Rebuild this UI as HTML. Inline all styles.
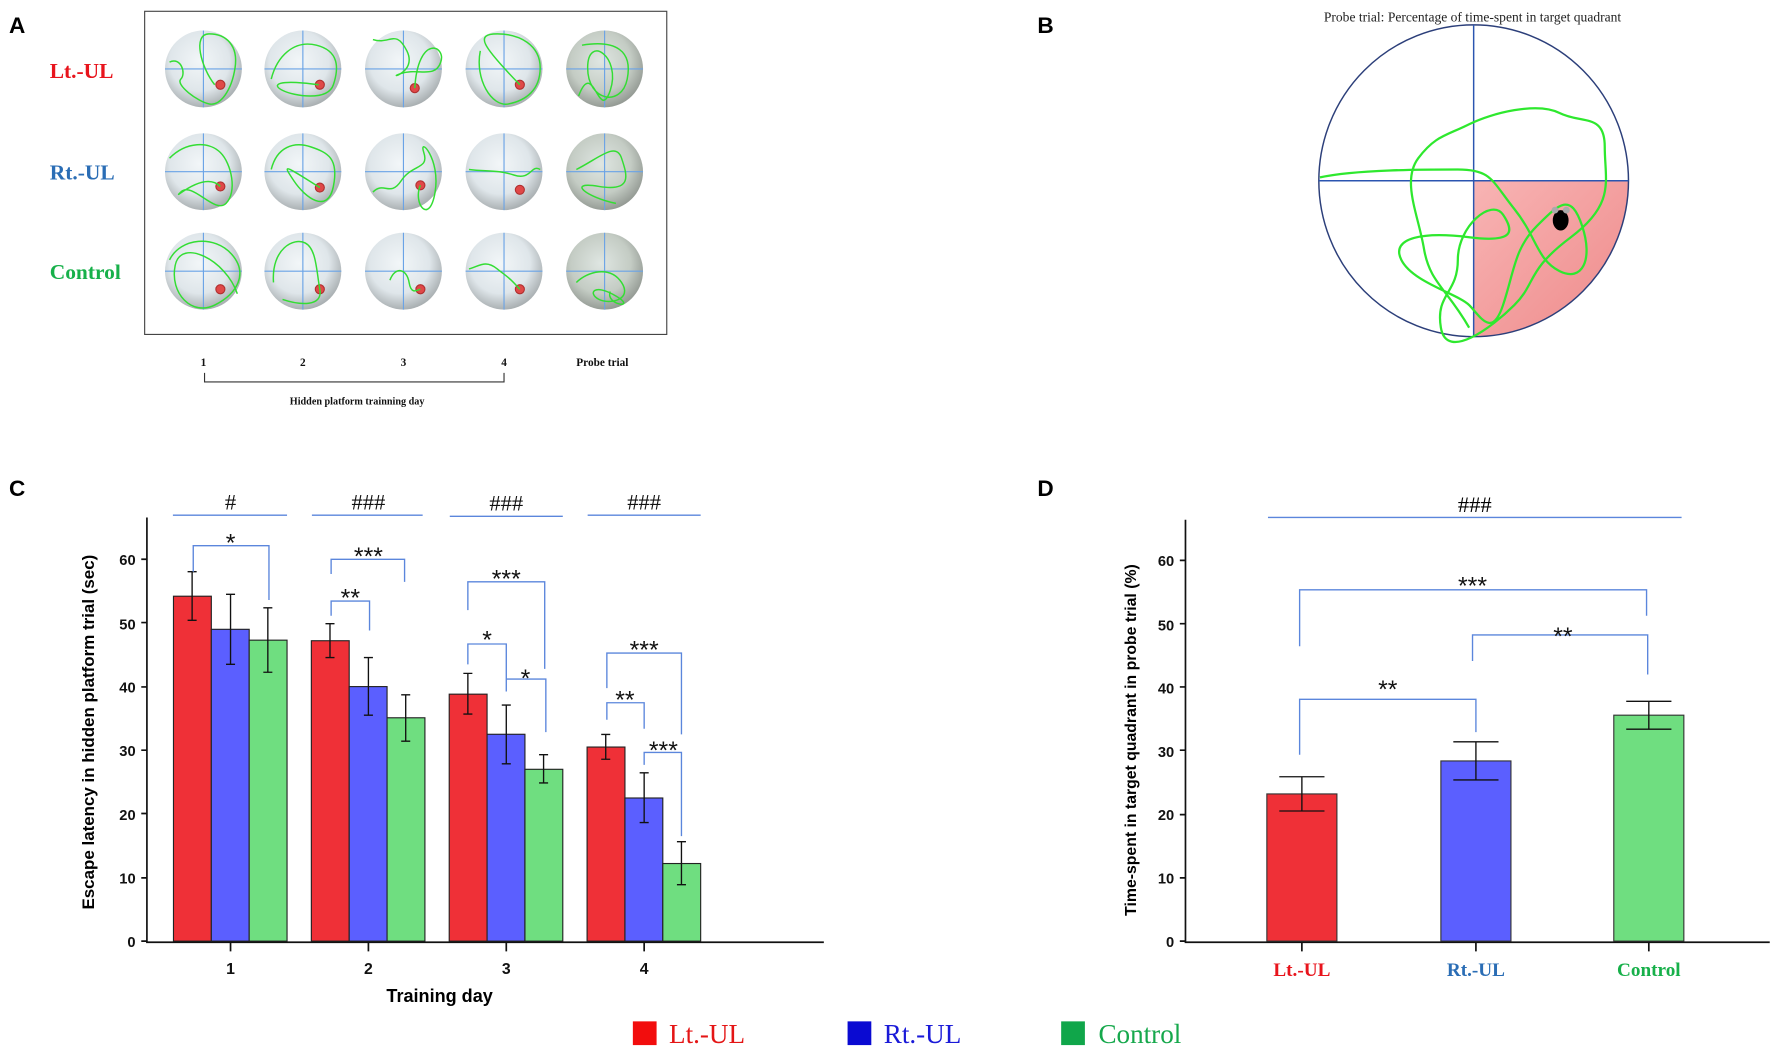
<!DOCTYPE html>
<html><head><meta charset="utf-8"><style>
html,body{margin:0;padding:0;background:#fff;}
svg{display:block;}
</style></head><body>
<svg width="1772" height="1053" viewBox="0 0 1568 932" preserveAspectRatio="none" xmlns="http://www.w3.org/2000/svg">
<defs>
<radialGradient id="pool" cx="0.45" cy="0.4" r="0.65">
<stop offset="0" stop-color="#f2f6f8"/><stop offset="0.6" stop-color="#dfe6ea"/><stop offset="1" stop-color="#9ea4a6"/>
</radialGradient>
<radialGradient id="poolp" cx="0.45" cy="0.4" r="0.65">
<stop offset="0" stop-color="#dfe6e2"/><stop offset="0.6" stop-color="#c4ccc4"/><stop offset="1" stop-color="#8a908a"/>
</radialGradient>
<linearGradient id="pink" x1="0" y1="0" x2="1" y2="1"><stop offset="0" stop-color="#f8b4b4"/><stop offset="1" stop-color="#ee8a8a"/></linearGradient>
</defs>
<g font-family="Liberation Sans, sans-serif" font-weight="bold" font-size="20">
<text x="8" y="29">A</text><text x="918" y="29">B</text><text x="8" y="439">C</text><text x="918" y="439">D</text>
</g>
<!-- Panel A -->
<rect x="128" y="10" width="462" height="286" fill="#fff" stroke="#444" stroke-width="1"/>
<g font-family="Liberation Serif, serif" font-weight="bold" font-size="19">
<text x="44" y="69" fill="#e8141c">Lt.-UL</text>
<text x="44" y="159" fill="#2a6db5">Rt.-UL</text>
<text x="44" y="247" fill="#17b04a">Control</text>
</g>
<g>
<g><circle cx="180" cy="61" r="34" fill="url(#pool)"/><circle cx="268" cy="61" r="34" fill="url(#pool)"/><circle cx="357" cy="61" r="34" fill="url(#pool)"/><circle cx="446" cy="61" r="34" fill="url(#pool)"/><circle cx="535" cy="61" r="34" fill="url(#poolp)"/></g>
<g><circle cx="180" cy="152" r="34" fill="url(#pool)"/><circle cx="268" cy="152" r="34" fill="url(#pool)"/><circle cx="357" cy="152" r="34" fill="url(#pool)"/><circle cx="446" cy="152" r="34" fill="url(#pool)"/><circle cx="535" cy="152" r="34" fill="url(#poolp)"/></g>
<g><circle cx="180" cy="240" r="34" fill="url(#pool)"/><circle cx="268" cy="240" r="34" fill="url(#pool)"/><circle cx="357" cy="240" r="34" fill="url(#pool)"/><circle cx="446" cy="240" r="34" fill="url(#pool)"/><circle cx="535" cy="240" r="34" fill="url(#poolp)"/></g>
</g>
<g stroke="#6aa3e6" stroke-width="1" fill="none">
<path d="M146 61H214M234 61H302M323 61H391M412 61H480M501 61H569M146 152H214M234 152H302M323 152H391M412 152H480M501 152H569M146 240H214M234 240H302M323 240H391M412 240H480M501 240H569"/>
<path d="M180 27V95M268 27V95M357 27V95M446 27V95M535 27V95M180 118V186M268 118V186M357 118V186M446 118V186M535 118V186M180 206V274M268 206V274M357 206V274M446 206V274M535 206V274"/>
</g>
<g fill="#e04848" stroke="#b03030" stroke-width="1">
<circle cx="195" cy="75" r="4"/><circle cx="283" cy="75" r="4"/><circle cx="367" cy="78" r="4"/><circle cx="460" cy="75" r="4"/>
<circle cx="195" cy="165" r="4"/><circle cx="283" cy="166" r="4"/><circle cx="372" cy="164" r="4"/><circle cx="460" cy="168" r="4"/>
<circle cx="195" cy="256" r="4"/><circle cx="283" cy="256" r="4"/><circle cx="372" cy="256" r="4"/><circle cx="460" cy="256" r="4"/>
</g>
<g fill="none" stroke="#33dd33" stroke-width="1.3">
<path d="M150 55C160 50 165 65 160 70S175 90 185 92 205 80 208 60 200 30 185 30 178 60 190 75"/>
<path d="M240 70C245 50 260 35 280 40S300 60 295 75 260 85 250 80 245 70 282 75"/>
<path d="M330 35C345 40 350 25 360 45S340 70 355 65 385 70 390 55 370 30 367 78"/>
<path d="M425 45C420 70 435 95 450 92S478 80 478 60 460 30 440 30 426 40 460 75"/>
<path d="M515 40C545 35 560 45 555 70S520 90 520 60 550 50 540 80 525 50 512 85"/>
<path d="M150 140C165 125 185 125 195 135S210 170 200 180 170 160 160 170 180 150 195 165"/>
<path d="M240 150C245 130 260 125 275 130S300 140 295 165 270 175 260 160 250 145 283 166"/>
<path d="M330 170C340 160 345 175 355 160S380 150 375 135 390 140 385 170 365 180 372 164"/>
<path d="M415 150C430 152 440 150 455 155S470 145 478 150"/>
<path d="M510 150C530 140 545 125 550 140S560 170 530 165 520 175 545 180"/>
<path d="M150 230C160 210 190 208 205 225S210 260 190 270 150 260 155 235 200 230 210 260"/>
<path d="M242 250C240 220 260 210 270 215S280 240 283 256 265 270 250 265"/>
<path d="M345 248C350 235 360 238 362 250S370 256 372 256"/>
<path d="M415 238C425 235 430 230 440 238S450 245 460 256"/>
<path d="M510 250C520 240 540 235 550 250S540 270 530 265 525 250 545 262 535 270 540 258"/>
</g>
<g font-family="Liberation Serif, serif" font-weight="bold" font-size="10" text-anchor="middle" fill="#111">
<text x="180" y="324">1</text><text x="268" y="324">2</text><text x="357" y="324">3</text><text x="446" y="324">4</text><text x="533" y="324">Probe trial</text>
<text x="316" y="358" font-size="9">Hidden platform trainning day</text>
</g>
<path d="M181 330V338H446V330" fill="none" stroke="#333" stroke-width="1"/>
<!-- Panel B -->
<text x="1303" y="19" font-family="Liberation Serif, serif" font-size="12" text-anchor="middle" fill="#222">Probe trial: Percentage of time-spent in target quadrant</text>
<path d="M1304 160H1441A137 138 0 0 1 1304 298Z" fill="url(#pink)"/>
<ellipse cx="1304" cy="160" rx="137" ry="138" fill="none" stroke="#2c3f7a" stroke-width="1.3"/>
<path d="M1167 160H1441M1304 22V298" stroke="#2b55b0" stroke-width="1.3" fill="none"/>
<path d="M1168 157C1200 150 1260 150 1290 150S1320 160 1340 185 1360 230 1380 240 1410 230 1400 200 1380 180 1360 200 1340 240 1330 270 1310 280 1300 270 1250 250 1240 230 1260 205 1300 210 1340 205 1330 190 1290 200 1290 230 1270 260 1275 290 1320 290 1340 270 1350 240 1390 210 1420 160 1420 130 1400 110 1380 100 1320 100 1300 110 1270 120 1255 140 1255 190 1260 220 1280 255 1300 290" fill="none" stroke="#2ee82e" stroke-width="2"/>
<ellipse cx="1381" cy="195" rx="7" ry="9" fill="#000"/><circle cx="1376" cy="186" r="3" fill="#aaa"/><circle cx="1386" cy="186" r="3" fill="#aaa"/>
<!-- Panel C -->
<g font-family="Liberation Sans, sans-serif" font-weight="bold" font-size="13" text-anchor="end" fill="#111">
<text x="120" y="838">0</text><text x="120" y="782">10</text><text x="120" y="726">20</text><text x="120" y="669">30</text><text x="120" y="613">40</text><text x="120" y="557">50</text><text x="120" y="500">60</text>
</g>
<g stroke="#111" stroke-width="1.5" fill="none"><path d="M130 458V834H729"/><path d="M125 833H130M125 777H130M125 720H130M125 664H130M125 608H130M125 551H130M125 495H130M204 834V842M326 834V842M448 834V842M570 834V842"/></g>
<g stroke="#222" stroke-width="1">
<rect x="153.5" y="527.7" width="33.5" height="305.3" fill="#ef3037"/><rect x="187" y="557" width="33.5" height="276" fill="#5b5fff"/><rect x="220.5" y="566.6" width="33.5" height="266.4" fill="#6fde80"/>
<rect x="275.5" y="567.1" width="33.5" height="265.9" fill="#ef3037"/><rect x="309" y="607.7" width="33.5" height="225.3" fill="#5b5fff"/><rect x="342.5" y="635.3" width="33.5" height="197.7" fill="#6fde80"/>
<rect x="397.5" y="614.4" width="33.5" height="218.6" fill="#ef3037"/><rect x="431" y="649.9" width="33.5" height="183.1" fill="#5b5fff"/><rect x="464.5" y="680.9" width="33.5" height="152.1" fill="#6fde80"/>
<rect x="519.5" y="661.2" width="33.5" height="171.8" fill="#ef3037"/><rect x="553" y="706.3" width="33.5" height="126.7" fill="#5b5fff"/><rect x="586.5" y="764.3" width="33.5" height="68.7" fill="#6fde80"/>
</g>
<g stroke="#111" stroke-width="1.2" fill="none">
<path d="M170 506V549M166 506H174M166 549H174M204 526V588M200 526H208M200 588H208M237 538V595M233 538H241M233 595H241"/>
<path d="M292 552V582M288 552H296M288 582H296M326 582V633M322 582H330M322 633H330M359 615V656M355 615H363M355 656H363"/>
<path d="M414 596V632M410 596H418M410 632H418M448 624V676M444 624H452M444 676H452M481 668V693M477 668H485M477 693H485"/>
<path d="M536 650V672M532 650H540M532 672H540M570 684V728M566 684H574M566 728H574M603 745V783M599 745H607M599 783H607"/>
</g>
<g stroke="#5b86dc" stroke-width="1.2" fill="none">
<path d="M153 456H254M276 456H374M398 457H498M520 456H620"/>
<path d="M171 506V483H238V531"/>
<path d="M293 508V495H358V515M293 545V532H327V558"/>
<path d="M414 540V515H482V592M414 588V570H448V602M448 612V601H483V648"/>
<path d="M537 609V578H603V650M537 637V622H570V645M570 677V666H603V740"/>
</g>
<g font-family="Liberation Serif, serif" font-size="20" text-anchor="middle" fill="#111">
<text x="204" y="451">#</text><text x="326" y="451">###</text><text x="448" y="452">###</text><text x="570" y="451">###</text>
</g>
<g font-family="Liberation Sans, sans-serif" font-size="22" text-anchor="middle" fill="#111">
<text x="204" y="488">*</text><text x="326" y="500">***</text><text x="310" y="537">**</text>
<text x="448" y="520">***</text><text x="431" y="574">*</text><text x="465" y="608">*</text>
<text x="570" y="583">***</text><text x="553" y="627">**</text><text x="587" y="672">***</text>
</g>
<g font-family="Liberation Sans, sans-serif" font-weight="bold" font-size="14" text-anchor="middle" fill="#111">
<text x="204" y="862">1</text><text x="326" y="862">2</text><text x="448" y="862">3</text><text x="570" y="862">4</text>
</g>
<text x="389" y="887" font-family="Liberation Sans, sans-serif" font-weight="bold" font-size="16" text-anchor="middle">Training day</text>
<text transform="translate(83,648) rotate(-90)" font-family="Liberation Sans, sans-serif" font-weight="bold" font-size="15" text-anchor="middle">Escape latency in hidden platform trial (sec)</text>
<!-- Legend -->
<rect x="560" y="904" width="21" height="21" fill="#f20d0d"/><text x="592" y="923" font-family="Liberation Serif, serif" font-size="24" fill="#e41515">Lt.-UL</text>
<rect x="750" y="904" width="21" height="21" fill="#0a0ad2"/><text x="782" y="923" font-family="Liberation Serif, serif" font-size="24" fill="#1a1ad8">Rt.-UL</text>
<rect x="939" y="904" width="21" height="21" fill="#10a64a"/><text x="972" y="923" font-family="Liberation Serif, serif" font-size="24" fill="#16a84c">Control</text>
<!-- Panel D -->
<g font-family="Liberation Sans, sans-serif" font-weight="bold" font-size="13" text-anchor="end" fill="#111">
<text x="1039" y="838">0</text><text x="1039" y="782">10</text><text x="1039" y="726">20</text><text x="1039" y="670">30</text><text x="1039" y="614">40</text><text x="1039" y="558">50</text><text x="1039" y="501">60</text>
</g>
<g stroke="#111" stroke-width="1.5" fill="none"><path d="M1049 460V834H1566"/><path d="M1044 833H1049M1044 777H1049M1044 721H1049M1044 664H1049M1044 608H1049M1044 552H1049M1044 496H1049M1152 834V842M1306 834V842M1459 834V842"/></g>
<g stroke="#333" stroke-width="1">
<rect x="1121" y="702.7" width="62" height="130.3" fill="#ef3037"/>
<rect x="1275" y="673.5" width="62" height="159.5" fill="#5b5fff"/>
<rect x="1428" y="633" width="62" height="200" fill="#6fde80"/>
</g>
<g stroke="#111" stroke-width="1.2" fill="none"><path d="M1152 687.5V717.8M1132 687.5H1172M1132 717.8H1172M1306 656.6V690.3M1286 656.6H1326M1286 690.3H1326M1459 620.7V645.4M1439 620.7H1479M1439 645.4H1479"/></g>
<g stroke="#5b86dc" stroke-width="1.2" fill="none">
<path d="M1122 458H1488"/>
<path d="M1150 572V522H1457V545"/>
<path d="M1303 585V562H1458V597"/>
<path d="M1150 668V619H1306V648"/>
</g>
<text x="1305" y="453" font-family="Liberation Serif, serif" font-size="20" text-anchor="middle">###</text>
<g font-family="Liberation Sans, sans-serif" font-size="22" text-anchor="middle" fill="#111">
<text x="1303" y="526">***</text><text x="1383" y="571">**</text><text x="1228" y="618">**</text>
</g>
<g font-family="Liberation Serif, serif" font-weight="bold" font-size="17" text-anchor="middle">
<text x="1152" y="864" fill="#e8141c">Lt.-UL</text><text x="1306" y="864" fill="#2a6db5">Rt.-UL</text><text x="1459" y="864" fill="#17b04a">Control</text>
</g>
<text transform="translate(1005,655) rotate(-90)" font-family="Liberation Sans, sans-serif" font-weight="bold" font-size="14" text-anchor="middle">Time-spent in target quadrant in probe trial (%)</text>
</svg>
</body></html>
